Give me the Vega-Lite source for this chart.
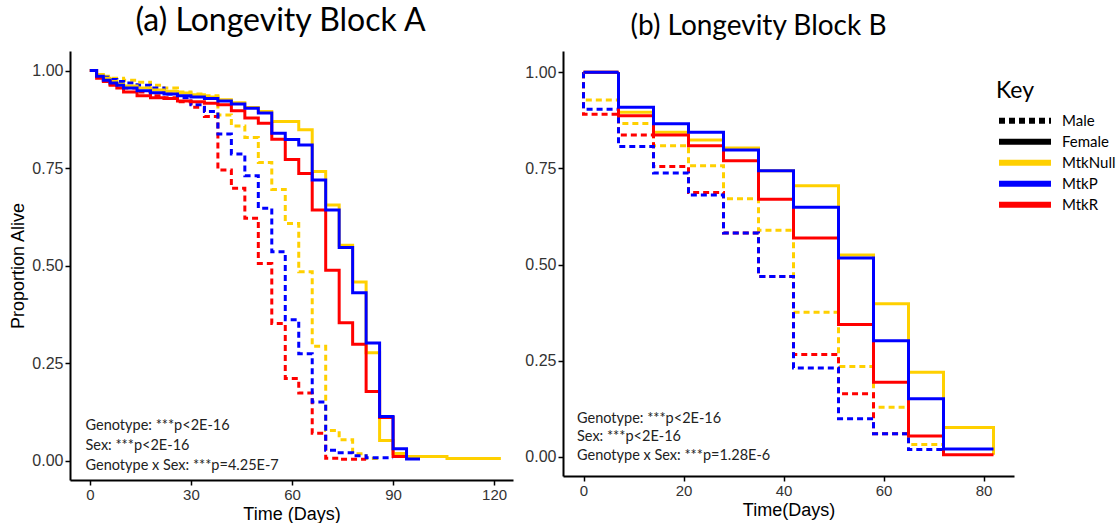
{
  "$schema": "https://vega.github.io/schema/vega-lite/v6.json",
  "background": "white",
  "autosize": {"type": "pad"},
  "padding": {"left": 9, "top": 5, "right": 0, "bottom": 0},
  "spacing": 11,
  "config": {
    "view": {"stroke": null},
    "axis": {"domainColor": "black", "domainWidth": 2, "tickColor": "black", "tickWidth": 1.5, "tickSize": 5, "labelFont": "Liberation Sans", "labelColor": "#333333", "labelFontSize": 15, "labelPadding": 2, "titleFont": "Liberation Sans", "titleFontWeight": "normal", "titleColor": "black", "titleFontSize": 18, "grid": false},
    "title": {"font": "Lato", "fontWeight": "normal", "color": "black"}
  },
  "datasets": {
    "A": [
      {"g":"MtkNull","sex":"Male","day":0,"s":1.0},{"g":"MtkNull","sex":"Male","day":2,"s":0.99},{"g":"MtkNull","sex":"Male","day":4,"s":0.985},{"g":"MtkNull","sex":"Male","day":6,"s":0.98},{"g":"MtkNull","sex":"Male","day":10,"s":0.975},{"g":"MtkNull","sex":"Male","day":14,"s":0.97},{"g":"MtkNull","sex":"Male","day":18,"s":0.962},{"g":"MtkNull","sex":"Male","day":22,"s":0.955},{"g":"MtkNull","sex":"Male","day":26,"s":0.945},{"g":"MtkNull","sex":"Male","day":30,"s":0.94},{"g":"MtkNull","sex":"Male","day":34,"s":0.935},{"g":"MtkNull","sex":"Male","day":38,"s":0.886},{"g":"MtkNull","sex":"Male","day":42,"s":0.858},{"g":"MtkNull","sex":"Male","day":46,"s":0.828},{"g":"MtkNull","sex":"Male","day":50,"s":0.764},{"g":"MtkNull","sex":"Male","day":54,"s":0.695},{"g":"MtkNull","sex":"Male","day":58,"s":0.608},{"g":"MtkNull","sex":"Male","day":62,"s":0.484},{"g":"MtkNull","sex":"Male","day":66,"s":0.293},{"g":"MtkNull","sex":"Male","day":70,"s":0.077},{"g":"MtkNull","sex":"Male","day":74,"s":0.053},{"g":"MtkNull","sex":"Male","day":78,"s":0.017},{"g":"MtkNull","sex":"Male","day":82,"s":0.005},{"g":"MtkNull","sex":"Male","day":86,"s":0.005},
      {"g":"MtkR","sex":"Male","day":0,"s":1.0},{"g":"MtkR","sex":"Male","day":2,"s":0.985},{"g":"MtkR","sex":"Male","day":4,"s":0.975},{"g":"MtkR","sex":"Male","day":6,"s":0.965},{"g":"MtkR","sex":"Male","day":10,"s":0.955},{"g":"MtkR","sex":"Male","day":14,"s":0.945},{"g":"MtkR","sex":"Male","day":18,"s":0.935},{"g":"MtkR","sex":"Male","day":22,"s":0.93},{"g":"MtkR","sex":"Male","day":26,"s":0.92},{"g":"MtkR","sex":"Male","day":30,"s":0.906},{"g":"MtkR","sex":"Male","day":34,"s":0.882},{"g":"MtkR","sex":"Male","day":38,"s":0.745},{"g":"MtkR","sex":"Male","day":42,"s":0.698},{"g":"MtkR","sex":"Male","day":46,"s":0.621},{"g":"MtkR","sex":"Male","day":50,"s":0.505},{"g":"MtkR","sex":"Male","day":54,"s":0.351},{"g":"MtkR","sex":"Male","day":58,"s":0.21},{"g":"MtkR","sex":"Male","day":62,"s":0.173},{"g":"MtkR","sex":"Male","day":66,"s":0.07},{"g":"MtkR","sex":"Male","day":70,"s":0.006},{"g":"MtkR","sex":"Male","day":74,"s":0.003},{"g":"MtkR","sex":"Male","day":82,"s":0.003},
      {"g":"MtkP","sex":"Male","day":0,"s":1.0},{"g":"MtkP","sex":"Male","day":2,"s":0.99},{"g":"MtkP","sex":"Male","day":4,"s":0.983},{"g":"MtkP","sex":"Male","day":6,"s":0.977},{"g":"MtkP","sex":"Male","day":8,"s":0.972},{"g":"MtkP","sex":"Male","day":10,"s":0.968},{"g":"MtkP","sex":"Male","day":14,"s":0.962},{"g":"MtkP","sex":"Male","day":18,"s":0.955},{"g":"MtkP","sex":"Male","day":22,"s":0.94},{"g":"MtkP","sex":"Male","day":26,"s":0.93},{"g":"MtkP","sex":"Male","day":30,"s":0.912},{"g":"MtkP","sex":"Male","day":34,"s":0.895},{"g":"MtkP","sex":"Male","day":38,"s":0.837},{"g":"MtkP","sex":"Male","day":42,"s":0.786},{"g":"MtkP","sex":"Male","day":46,"s":0.73},{"g":"MtkP","sex":"Male","day":50,"s":0.647},{"g":"MtkP","sex":"Male","day":54,"s":0.535},{"g":"MtkP","sex":"Male","day":58,"s":0.361},{"g":"MtkP","sex":"Male","day":62,"s":0.274},{"g":"MtkP","sex":"Male","day":66,"s":0.15},{"g":"MtkP","sex":"Male","day":70,"s":0.026},{"g":"MtkP","sex":"Male","day":74,"s":0.02},{"g":"MtkP","sex":"Male","day":78,"s":0.012},{"g":"MtkP","sex":"Male","day":82,"s":0.007},{"g":"MtkP","sex":"Male","day":90,"s":0.007},
      {"g":"MtkNull","sex":"Female","day":0,"s":1.0},{"g":"MtkNull","sex":"Female","day":2,"s":0.99},{"g":"MtkNull","sex":"Female","day":4,"s":0.98},{"g":"MtkNull","sex":"Female","day":6,"s":0.972},{"g":"MtkNull","sex":"Female","day":8,"s":0.965},{"g":"MtkNull","sex":"Female","day":10,"s":0.96},{"g":"MtkNull","sex":"Female","day":14,"s":0.955},{"g":"MtkNull","sex":"Female","day":18,"s":0.95},{"g":"MtkNull","sex":"Female","day":22,"s":0.947},{"g":"MtkNull","sex":"Female","day":26,"s":0.942},{"g":"MtkNull","sex":"Female","day":30,"s":0.938},{"g":"MtkNull","sex":"Female","day":34,"s":0.932},{"g":"MtkNull","sex":"Female","day":38,"s":0.925},{"g":"MtkNull","sex":"Female","day":42,"s":0.917},{"g":"MtkNull","sex":"Female","day":46,"s":0.905},{"g":"MtkNull","sex":"Female","day":50,"s":0.895},{"g":"MtkNull","sex":"Female","day":54,"s":0.869},{"g":"MtkNull","sex":"Female","day":62,"s":0.848},{"g":"MtkNull","sex":"Female","day":66,"s":0.741},{"g":"MtkNull","sex":"Female","day":70,"s":0.655},{"g":"MtkNull","sex":"Female","day":74,"s":0.552},{"g":"MtkNull","sex":"Female","day":78,"s":0.458},{"g":"MtkNull","sex":"Female","day":82,"s":0.276},{"g":"MtkNull","sex":"Female","day":86,"s":0.051},{"g":"MtkNull","sex":"Female","day":90,"s":0.018},{"g":"MtkNull","sex":"Female","day":94,"s":0.01},{"g":"MtkNull","sex":"Female","day":106,"s":0.005},{"g":"MtkNull","sex":"Female","day":122,"s":0.005},
      {"g":"MtkR","sex":"Female","day":0,"s":1.0},{"g":"MtkR","sex":"Female","day":2,"s":0.98},{"g":"MtkR","sex":"Female","day":4,"s":0.972},{"g":"MtkR","sex":"Female","day":6,"s":0.962},{"g":"MtkR","sex":"Female","day":8,"s":0.955},{"g":"MtkR","sex":"Female","day":10,"s":0.945},{"g":"MtkR","sex":"Female","day":14,"s":0.935},{"g":"MtkR","sex":"Female","day":18,"s":0.93},{"g":"MtkR","sex":"Female","day":22,"s":0.928},{"g":"MtkR","sex":"Female","day":26,"s":0.922},{"g":"MtkR","sex":"Female","day":30,"s":0.92},{"g":"MtkR","sex":"Female","day":34,"s":0.916},{"g":"MtkR","sex":"Female","day":38,"s":0.912},{"g":"MtkR","sex":"Female","day":42,"s":0.897},{"g":"MtkR","sex":"Female","day":46,"s":0.878},{"g":"MtkR","sex":"Female","day":50,"s":0.865},{"g":"MtkR","sex":"Female","day":54,"s":0.824},{"g":"MtkR","sex":"Female","day":58,"s":0.772},{"g":"MtkR","sex":"Female","day":62,"s":0.736},{"g":"MtkR","sex":"Female","day":66,"s":0.642},{"g":"MtkR","sex":"Female","day":70,"s":0.488},{"g":"MtkR","sex":"Female","day":74,"s":0.353},{"g":"MtkR","sex":"Female","day":78,"s":0.298},{"g":"MtkR","sex":"Female","day":82,"s":0.177},{"g":"MtkR","sex":"Female","day":86,"s":0.11},{"g":"MtkR","sex":"Female","day":90,"s":0.01},{"g":"MtkR","sex":"Female","day":94,"s":0.01},
      {"g":"MtkP","sex":"Female","day":0,"s":1.0},{"g":"MtkP","sex":"Female","day":2,"s":0.985},{"g":"MtkP","sex":"Female","day":4,"s":0.975},{"g":"MtkP","sex":"Female","day":6,"s":0.968},{"g":"MtkP","sex":"Female","day":8,"s":0.962},{"g":"MtkP","sex":"Female","day":10,"s":0.955},{"g":"MtkP","sex":"Female","day":14,"s":0.948},{"g":"MtkP","sex":"Female","day":18,"s":0.943},{"g":"MtkP","sex":"Female","day":22,"s":0.94},{"g":"MtkP","sex":"Female","day":26,"s":0.935},{"g":"MtkP","sex":"Female","day":30,"s":0.932},{"g":"MtkP","sex":"Female","day":34,"s":0.928},{"g":"MtkP","sex":"Female","day":38,"s":0.922},{"g":"MtkP","sex":"Female","day":42,"s":0.914},{"g":"MtkP","sex":"Female","day":46,"s":0.903},{"g":"MtkP","sex":"Female","day":50,"s":0.891},{"g":"MtkP","sex":"Female","day":54,"s":0.839},{"g":"MtkP","sex":"Female","day":58,"s":0.823},{"g":"MtkP","sex":"Female","day":62,"s":0.809},{"g":"MtkP","sex":"Female","day":66,"s":0.719},{"g":"MtkP","sex":"Female","day":70,"s":0.642},{"g":"MtkP","sex":"Female","day":74,"s":0.546},{"g":"MtkP","sex":"Female","day":78,"s":0.43},{"g":"MtkP","sex":"Female","day":82,"s":0.301},{"g":"MtkP","sex":"Female","day":86,"s":0.113},{"g":"MtkP","sex":"Female","day":90,"s":0.03},{"g":"MtkP","sex":"Female","day":94,"s":0.004},{"g":"MtkP","sex":"Female","day":98,"s":0.004}
    ],
    "B": [
      {"g":"MtkNull","sex":"Male","day":0,"s":1.0},{"g":"MtkNull","sex":"Male","day":0,"s":0.928},{"g":"MtkNull","sex":"Male","day":7,"s":0.867},{"g":"MtkNull","sex":"Male","day":14,"s":0.809},{"g":"MtkNull","sex":"Male","day":21,"s":0.757},{"g":"MtkNull","sex":"Male","day":28,"s":0.671},{"g":"MtkNull","sex":"Male","day":35,"s":0.589},{"g":"MtkNull","sex":"Male","day":42,"s":0.376},{"g":"MtkNull","sex":"Male","day":51,"s":0.235},{"g":"MtkNull","sex":"Male","day":58,"s":0.129},{"g":"MtkNull","sex":"Male","day":65,"s":0.032},{"g":"MtkNull","sex":"Male","day":72,"s":0.032},
      {"g":"MtkR","sex":"Male","day":0,"s":1.0},{"g":"MtkR","sex":"Male","day":0,"s":0.891},{"g":"MtkR","sex":"Male","day":7,"s":0.837},{"g":"MtkR","sex":"Male","day":14,"s":0.755},{"g":"MtkR","sex":"Male","day":21,"s":0.687},{"g":"MtkR","sex":"Male","day":28,"s":0.582},{"g":"MtkR","sex":"Male","day":35,"s":0.469},{"g":"MtkR","sex":"Male","day":42,"s":0.266},{"g":"MtkR","sex":"Male","day":51,"s":0.164},{"g":"MtkR","sex":"Male","day":58,"s":0.06},{"g":"MtkR","sex":"Male","day":65,"s":0.06},
      {"g":"MtkP","sex":"Male","day":0,"s":1.0},{"g":"MtkP","sex":"Male","day":0,"s":0.904},{"g":"MtkP","sex":"Male","day":7,"s":0.807},{"g":"MtkP","sex":"Male","day":14,"s":0.738},{"g":"MtkP","sex":"Male","day":21,"s":0.681},{"g":"MtkP","sex":"Male","day":28,"s":0.582},{"g":"MtkP","sex":"Male","day":35,"s":0.469},{"g":"MtkP","sex":"Male","day":42,"s":0.231},{"g":"MtkP","sex":"Male","day":51,"s":0.099},{"g":"MtkP","sex":"Male","day":58,"s":0.06},{"g":"MtkP","sex":"Male","day":65,"s":0.019},{"g":"MtkP","sex":"Male","day":72,"s":0.019},
      {"g":"MtkNull","sex":"Female","day":0,"s":1.0},{"g":"MtkNull","sex":"Female","day":7,"s":0.896},{"g":"MtkNull","sex":"Female","day":14,"s":0.844},{"g":"MtkNull","sex":"Female","day":21,"s":0.824},{"g":"MtkNull","sex":"Female","day":28,"s":0.803},{"g":"MtkNull","sex":"Female","day":35,"s":0.744},{"g":"MtkNull","sex":"Female","day":42,"s":0.705},{"g":"MtkNull","sex":"Female","day":51,"s":0.525},{"g":"MtkNull","sex":"Female","day":58,"s":0.398},{"g":"MtkNull","sex":"Female","day":65,"s":0.22},{"g":"MtkNull","sex":"Female","day":72,"s":0.076},{"g":"MtkNull","sex":"Female","day":82,"s":0.076},{"g":"MtkNull","sex":"Female","day":82,"s":0.005},
      {"g":"MtkR","sex":"Female","day":0,"s":1.0},{"g":"MtkR","sex":"Female","day":7,"s":0.887},{"g":"MtkR","sex":"Female","day":14,"s":0.837},{"g":"MtkR","sex":"Female","day":21,"s":0.809},{"g":"MtkR","sex":"Female","day":28,"s":0.77},{"g":"MtkR","sex":"Female","day":35,"s":0.67},{"g":"MtkR","sex":"Female","day":42,"s":0.569},{"g":"MtkR","sex":"Female","day":51,"s":0.344},{"g":"MtkR","sex":"Female","day":58,"s":0.194},{"g":"MtkR","sex":"Female","day":65,"s":0.054},{"g":"MtkR","sex":"Female","day":72,"s":0.005},{"g":"MtkR","sex":"Female","day":82,"s":0.005},
      {"g":"MtkP","sex":"Female","day":0,"s":1.0},{"g":"MtkP","sex":"Female","day":7,"s":0.909},{"g":"MtkP","sex":"Female","day":14,"s":0.866},{"g":"MtkP","sex":"Female","day":21,"s":0.844},{"g":"MtkP","sex":"Female","day":28,"s":0.798},{"g":"MtkP","sex":"Female","day":35,"s":0.744},{"g":"MtkP","sex":"Female","day":42,"s":0.649},{"g":"MtkP","sex":"Female","day":51,"s":0.517},{"g":"MtkP","sex":"Female","day":58,"s":0.302},{"g":"MtkP","sex":"Female","day":65,"s":0.151},{"g":"MtkP","sex":"Female","day":72,"s":0.02},{"g":"MtkP","sex":"Female","day":82,"s":0.02}
    ]
  },
  "hconcat": [
    {
      "width": 443, "height": 429,
      "title": {"text": "(a) Longevity Block A", "fontSize": 32, "baseline": "alphabetic", "offset": -12, "dx": -11},
      "layer": [
        {
          "data": {"name": "A"},
          "mark": {"type": "line", "interpolate": "step-after", "strokeWidth": 3},
          "encoding": {
            "x": {"field": "day", "type": "quantitative", "scale": {"domain": [-5.9, 125.6], "nice": false, "zero": false}, "axis": {"values": [0, 30, 60, 90, 120], "title": "Time (Days)", "titlePadding": 3}},
            "y": {"field": "s", "type": "quantitative", "scale": {"domain": [-0.05, 1.05], "nice": false}, "axis": {"values": [0, 0.25, 0.5, 0.75, 1], "format": ".2f", "labelFontSize": 16, "title": "Proportion Alive", "titlePadding": 4}},
            "color": {"field": "g", "type": "nominal", "scale": {"domain": ["MtkNull", "MtkP", "MtkR"], "range": ["#FFD000", "#0000FF", "#FF0000"]},
              "legend": {"title": null, "orient": "none", "legendX": 926, "legendY": 101.5, "clipHeight": 20.5, "rowPadding": 0, "symbolType": "stroke", "symbolStrokeWidth": 6, "symbolSize": 2700, "labelFont": "Lato", "labelFontSize": 15, "labelColor": "black", "labelOffset": 8}},
            "strokeDash": {"field": "sex", "type": "nominal", "scale": {"domain": ["Male", "Female"], "range": [[6, 4], [1, 0]]},
              "legend": {"title": "\u00a0\u00a0Key", "orient": "none", "legendX": 926, "legendY": 28.5, "clipHeight": 20.5, "rowPadding": 0, "titlePadding": 8, "titleFont": "Lato", "titleFontSize": 23, "titleFontWeight": "normal", "titleColor": "black", "titleAnchor": "start", "symbolType": "stroke", "symbolStrokeColor": "black", "symbolStrokeWidth": 6, "symbolSize": 2700, "labelFont": "Lato", "labelFontSize": 15, "labelColor": "black", "labelOffset": 8,
                "encode": {"symbols": {"enter": {"strokeDash": {"signal": "datum.value === 'Male' ? [13, 6] : [1, 0]"}}, "update": {"strokeDash": {"signal": "datum.value === 'Male' ? [13, 6] : [1, 0]"}}}}}}
          }
        },
        {
          "data": {"values": [{}]},
          "mark": {"type": "text", "align": "left", "baseline": "middle", "font": "Lato", "fontSize": 14.5, "lineHeight": 20, "color": "#222222", "text": ["Genotype: ***p<2E-16", "Sex: ***p<2E-16", "Genotype x Sex: ***p=4.25E-7"]},
          "encoding": {"x": {"datum": -1.3}, "y": {"datum": 0.0873}}
        }
      ]
    },
    {
      "width": 451, "height": 425,
      "title": {"text": "(b) Longevity Block B", "fontSize": 28, "baseline": "alphabetic", "offset": -12, "dx": -30},
      "layer": [
        {
          "data": {"name": "B"},
          "mark": {"type": "line", "interpolate": "step-after", "strokeWidth": 3},
          "encoding": {
            "x": {"field": "day", "type": "quantitative", "scale": {"domain": [-4.1, 86.1], "nice": false, "zero": false}, "axis": {"values": [0, 20, 40, 60, 80], "title": "Time(Days)", "titlePadding": 3}},
            "y": {"field": "s", "type": "quantitative", "scale": {"domain": [-0.05, 1.0553], "nice": false}, "axis": {"values": [0, 0.25, 0.5, 0.75, 1], "format": ".2f", "labelFontSize": 16, "title": null}},
            "color": {"field": "g", "type": "nominal"},
            "strokeDash": {"field": "sex", "type": "nominal"}
          }
        },
        {
          "data": {"values": [{}]},
          "mark": {"type": "text", "align": "left", "baseline": "middle", "font": "Lato", "fontSize": 14.5, "lineHeight": 18.5, "color": "#222222", "text": ["Genotype: ***p<2E-16", "Sex: ***p<2E-16", "Genotype x Sex: ***p=1.28E-6"]},
          "encoding": {"x": {"datum": -1.3}, "y": {"datum": 0.0995}}
        }
      ]
    }
  ]
}
